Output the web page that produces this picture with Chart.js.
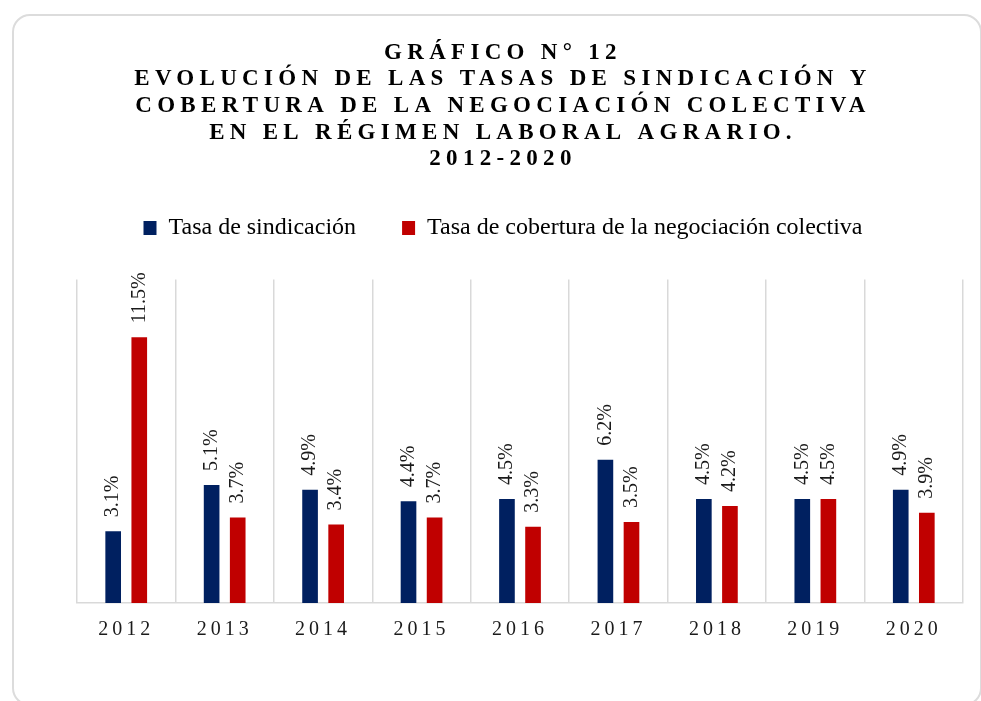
<!DOCTYPE html>
<html>
<head>
<meta charset="utf-8">
<script src="https://cdn.jsdelivr.net/npm/chart.js@4"></script>
<style>
  body { margin: 0; background: #fff; }
  #wrap { position: relative; width: 981px; height: 701px; }
  #card {
    position: absolute; left: 12px; top: 14px; width: 970px; height: 692px;
    border: 2px solid #dcdcdc; border-radius: 18px; box-sizing: border-box;
    pointer-events: none;
  }
</style>
</head>
<body>
<div id="wrap">
  <div id="card"></div>
  <canvas id="bar-chart"></canvas>
</div>
<script>
const years = ["2012", "2013", "2014", "2015", "2016", "2017", "2018", "2019", "2020"];
const tasaSindicacion = [3.1, 5.1, 4.9, 4.4, 4.5, 6.2, 4.5, 4.5, 4.9];
const tasaCobertura = [11.5, 3.7, 3.4, 3.7, 3.3, 3.5, 4.2, 4.5, 3.9];
const titleLines = [
  "GRÁFICO N° 12",
  "EVOLUCIÓN DE LAS TASAS DE SINDICACIÓN Y",
  "COBERTURA DE LA NEGOCIACIÓN COLECTIVA",
  "EN EL RÉGIMEN LABORAL AGRARIO.",
  "2012-2020"
];

const serif = "'Liberation Serif', 'Times New Roman', serif";

// letter spacing for title and year labels (canvas letterSpacing)
const spacing = {
  id: 'spacing',
  beforeLayout(chart) {
    // legend leaves a gap down to the plot area
    const lg = chart.legend;
    if (lg && !lg._fixed) {
      const fit = lg.fit;
      lg.fit = function (...a) { fit.apply(this, a); this.height = 109.5; };
      lg._fixed = true;
    }
  },
  beforeDraw(chart) {
    const ctx = chart.ctx;
    const t = chart.titleBlock;
    if (t && !t._spaced) {
      const draw = t.draw;
      t.draw = function (...a) { ctx.letterSpacing = '5.3px'; draw.apply(this, a); ctx.letterSpacing = '0px'; };
      t._spaced = true;
    }
    const x = chart.scales.x;
    if (x && !x._spaced) {
      const drawLabels = x.drawLabels;
      x.drawLabels = function (...a) { ctx.letterSpacing = '4px'; drawLabels.apply(this, a); ctx.letterSpacing = '0px'; };
      x._spaced = true;
    }
  }
};

// vertical value labels above bars
const barLabels = {
  id: 'barLabels',
  afterDatasetsDraw(chart) {
    const ctx = chart.ctx;
    ctx.save();
    ctx.font = "20px " + serif;
    ctx.fillStyle = '#1a1a1a';
    ctx.textAlign = 'left';
    ctx.textBaseline = 'middle';
    chart.data.datasets.forEach((ds, i) => {
      chart.getDatasetMeta(i).data.forEach((bar, j) => {
        ctx.save();
        ctx.translate(bar.x, bar.y - 14);
        ctx.rotate(-Math.PI / 2);
        ctx.fillText(ds.data[j].toFixed(1) + '%', 0, 0);
        ctx.restore();
      });
    });
    ctx.restore();
  }
};

new Chart(document.getElementById("bar-chart"), {
  type: 'bar',
  data: {
    labels: years,
    datasets: [
      {
        label: "Tasa de sindicación",
        backgroundColor: "#002060",
        data: tasaSindicacion
      },
      {
        label: "Tasa de cobertura de la negociación colectiva",
        backgroundColor: "#C00000",
        data: tasaCobertura
      }
    ]
  },
  options: {
    responsive: true,
    maintainAspectRatio: false,
    animation: false,
    categoryPercentage: 0.53,
    barPercentage: 0.6,
    layout: { padding: { top: 0, left: 43, right: 18, bottom: 44 } },
    plugins: {
      tooltip: { enabled: false },
      title: {
        display: true,
        text: titleLines,
        color: '#000',
        font: { family: serif, size: 23, weight: 'bold', lineHeight: 1.16 },
        padding: { top: 39.5, bottom: -3 }
      },
      legend: {
        display: true,
        labels: {
          color: '#000',
          font: { family: serif, size: 24 },
          boxWidth: 13,
          boxHeight: 14,
          padding: 46
        }
      }
    },
    scales: {
      x: {
        grid: { display: true, drawTicks: false, color: '#d9d9d9', lineWidth: 1.5 },
        border: { display: true, color: '#d9d9d9', width: 1.5 },
        ticks: { color: '#1a1a1a', padding: 15, font: { family: serif, size: 20 } }
      },
      y: {
        min: 0,
        max: 14,
        grid: { display: false },
        border: { display: false },
        ticks: { display: false },
        afterFit(scale) { scale.width = 34; }
      }
    }
  },
  plugins: [spacing, barLabels]
});
</script>
</body>
</html>
